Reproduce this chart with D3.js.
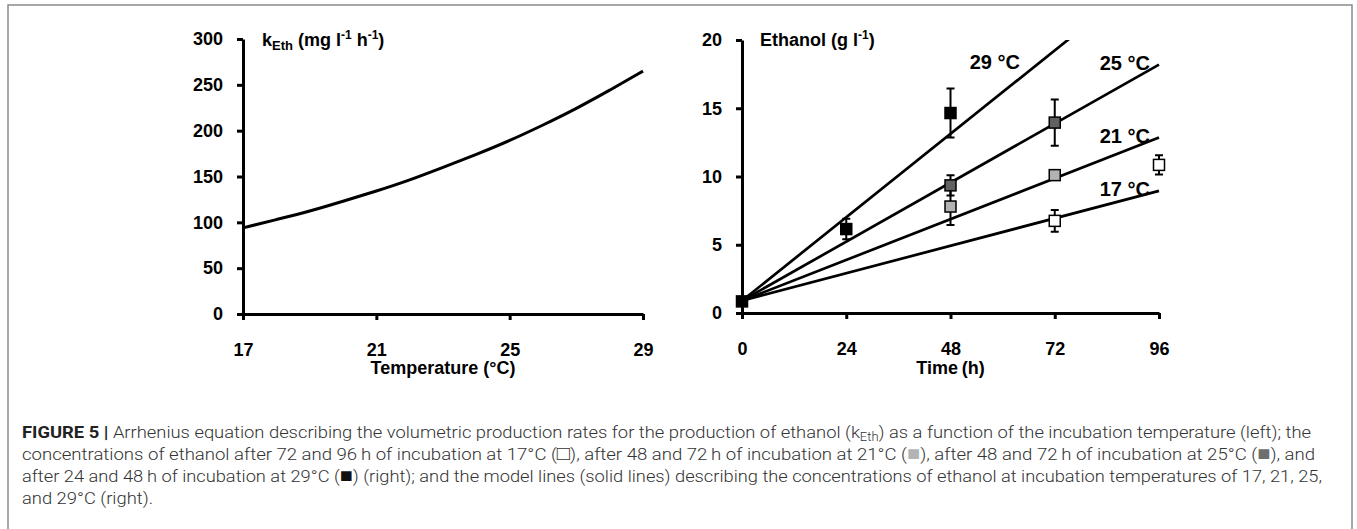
<!DOCTYPE html>
<html>
<head>
<meta charset="utf-8">
<script src="https://cdn.jsdelivr.net/npm/d3@7"></script>
<style>
  body { margin: 0; background: #fff; }
  svg { display: block; }
  .tick text { font-family: "Liberation Sans", Arial, sans-serif; font-weight: bold; font-size: 18px; fill: #000; }
  .axis-title { font-family: "Liberation Sans", Arial, sans-serif; font-weight: bold; font-size: 18px; fill: #000; }
  .mlabel { font-size: 20px; }
  .caption { font-family: Roboto, "Open Sans", sans-serif; font-weight: 300; font-size: 17px; fill: #333; }
</style>
</head>
<body>
<div class="chart"></div>
<script>
// left panel: Arrhenius curve, k_Eth vs temperature
const temps = [17, 18, 19, 20, 21, 22, 23, 24, 25, 26, 27, 28, 29];
const kEth = [94, 103, 112, 123, 134, 146, 160, 174, 189, 206, 224, 244, 265];
const tempTicks = [17, 21, 25, 29];
const kTicks = [0, 50, 100, 150, 200, 250, 300];

// right panel: model lines (start at 0 h, end at 96 h) and measured points
const modelLabels = ["17 °C", "21 °C", "25 °C", "29 °C"];
const modelStart = [0.9, 0.9, 0.9, 0.9];
const modelEnd = [8.95, 12.85, 18.2, 25.35];
const groupFill = ["#ffffff", "#b3b3b3", "#616161", "#000000"];

const obsGroup = [0, 0, 1, 1, 2, 2, 3, 3, 3];
const obsTime = [72, 96, 48, 72, 48, 72, 0, 24, 48];
const obsMean = [6.75, 10.85, 7.8, 10.1, 9.35, 13.95, 0.85, 6.15, 14.65];
const obsErr = [0.8, 0.7, 1.35, 0.35, 0.75, 1.7, 0, 0.75, 1.8];

const timeTicks = [0, 24, 48, 72, 96];
const ethTicks = [0, 5, 10, 15, 20];

const width = 1357;
const height = 529;

const svg = d3.select(".chart")
    .append("svg")
    .attr("width", width)
    .attr("height", height);

// frame around figure
svg.append("path")
    .attr("d", "M8,529 V5 H1352 V529")
    .attr("fill", "none")
    .attr("stroke", "#8a8a8a")
    .attr("stroke-width", 1.5);

function styleAxis(g) {
  g.select(".domain").attr("stroke", "#000").attr("stroke-width", 3);
  g.selectAll(".tick line").attr("stroke", "#000").attr("stroke-width", 3);
}

// ---------- left panel ----------
const x1 = d3.scaleLinear().domain([17, 29]).range([243, 643]);
const y1 = d3.scaleLinear().domain([0, 300]).range([314, 39]);

svg.append("g")
    .attr("transform", "translate(0," + y1(0) + ")")
    .call(d3.axisBottom(x1).tickValues(tempTicks).tickSize(6).tickSizeOuter(0).tickPadding(23))
    .call(styleAxis);

svg.append("g")
    .attr("transform", "translate(" + x1(17) + ",0)")
    .call(d3.axisLeft(y1).tickValues(kTicks).tickSize(6).tickSizeOuter(0).tickPadding(14))
    .call(styleAxis);

svg.append("path")
    .datum(temps)
    .attr("fill", "none")
    .attr("stroke", "#000")
    .attr("stroke-width", 3)
    .attr("d", d3.line()
        .x(d => x1(d))
        .y((d, i) => y1(kEth[i]))
        .curve(d3.curveBasis));

const t1 = svg.append("text").attr("class", "axis-title").attr("x", 262).attr("y", 46);
t1.append("tspan").text("k");
t1.append("tspan").attr("font-size", 13).attr("dy", 4).text("Eth");
t1.append("tspan").attr("dy", -4).text(" (mg l");
t1.append("tspan").attr("font-size", 12).attr("dy", -7).text("-1");
t1.append("tspan").attr("dy", 7).text(" h");
t1.append("tspan").attr("font-size", 12).attr("dy", -7).text("-1");
t1.append("tspan").attr("dy", 7).text(")");

svg.append("text")
    .attr("class", "axis-title")
    .attr("x", (x1(17) + x1(29)) / 2)
    .attr("y", 374)
    .attr("text-anchor", "middle")
    .text("Temperature (°C)");

// ---------- right panel ----------
const x2 = d3.scaleLinear().domain([0, 96]).range([742, 1159]);
const y2 = d3.scaleLinear().domain([0, 20]).range([313, 40]);

svg.append("defs").append("clipPath")
    .attr("id", "clip2")
    .append("rect")
    .attr("x", x2(0)).attr("y", y2(20))
    .attr("width", x2(96) - x2(0) + 2)
    .attr("height", y2(0) - y2(20));

svg.append("g")
    .attr("transform", "translate(0," + y2(0) + ")")
    .call(d3.axisBottom(x2).tickValues(timeTicks).tickSize(6).tickSizeOuter(0).tickPadding(23))
    .call(styleAxis);

svg.append("g")
    .attr("transform", "translate(" + x2(0) + ",0)")
    .call(d3.axisLeft(y2).tickValues(ethTicks).tickSize(6).tickSizeOuter(0).tickPadding(14))
    .call(styleAxis);

svg.append("g")
    .attr("clip-path", "url(#clip2)")
    .selectAll("line")
    .data(modelLabels)
    .enter()
    .append("line")
    .attr("x1", x2(0))
    .attr("y1", (d, i) => y2(modelStart[i]))
    .attr("x2", x2(96))
    .attr("y2", (d, i) => y2(modelEnd[i]))
    .attr("stroke", "#000")
    .attr("stroke-width", 2.7);

// error bars
const idx = obsMean.map((m, i) => i);

svg.selectAll(".err")
    .data(idx.filter(i => obsErr[i] > 0))
    .enter()
    .append("path")
    .attr("class", "err")
    .attr("fill", "none")
    .attr("stroke", "#000")
    .attr("stroke-width", 2)
    .attr("d", function(i) {
      const cx = x2(obsTime[i]);
      const top = y2(obsMean[i] + obsErr[i]);
      const bot = y2(obsMean[i] - obsErr[i]);
      return "M" + cx + "," + top + "V" + bot +
             "M" + (cx - 4) + "," + top + "H" + (cx + 4) +
             "M" + (cx - 4) + "," + bot + "H" + (cx + 4);
    });

const sq = 11;
svg.selectAll(".pt")
    .data(idx)
    .enter()
    .append("rect")
    .attr("class", "pt")
    .attr("x", i => x2(obsTime[i]) - sq / 2)
    .attr("y", i => y2(obsMean[i]) - sq / 2)
    .attr("width", sq)
    .attr("height", sq)
    .attr("fill", i => groupFill[obsGroup[i]])
    .attr("stroke", "#000")
    .attr("stroke-width", 1.5);

// line labels
svg.selectAll(".mlabel")
    .data(modelLabels)
    .enter()
    .append("text")
    .attr("class", "axis-title mlabel")
    .attr("text-anchor", "end")
    .attr("x", (d, i) => i === 3 ? x2(64) : x2(96) - 9)
    .attr("y", (d, i) => i === 3 ? y2(20) + 29 : y2(modelEnd[i]) + 5)
    .text(d => d);

const t2 = svg.append("text").attr("class", "axis-title").attr("x", 760).attr("y", 46);
t2.append("tspan").text("Ethanol (g l");
t2.append("tspan").attr("font-size", 12).attr("dy", -7).text("-1");
t2.append("tspan").attr("dy", 7).text(")");

svg.append("text")
    .attr("class", "axis-title")
    .attr("x", (x2(0) + x2(96)) / 2)
    .attr("y", 374)
    .attr("text-anchor", "middle")
    .text("Time\u2009(h)");

// ---------- caption ----------
const capX = 22;
function sqSpan(t, ch, fill) {
  t.append("tspan").attr("font-family", "DejaVu Sans").attr("font-size", 20)
    .attr("fill", fill).text(ch);
}
const c1 = svg.append("text").attr("class", "caption").attr("x", capX).attr("y", 438);
c1.append("tspan").attr("font-weight", "bold").attr("fill", "#222").text("FIGURE 5 |");
c1.append("tspan").text(" Arrhenius equation describing the volumetric production rates for the production of ethanol (k");
c1.append("tspan").attr("font-size", 12).attr("dy", 3).text("Eth");
c1.append("tspan").attr("dy", -3).text(") as a function of the incubation temperature (left); the");

const c2 = svg.append("text").attr("class", "caption").attr("x", capX).attr("y", 460);
c2.append("tspan").text("concentrations of ethanol after 72 and 96\u2009h of incubation at 17\u00b0C (");
sqSpan(c2, "\u25a1", "#333");
c2.append("tspan").text("), after 48 and 72\u2009h of incubation at 21\u00b0C (");
sqSpan(c2, "\u25a0", "#b3b3b3");
c2.append("tspan").text("), after 48 and 72\u2009h of incubation at 25\u00b0C (");
sqSpan(c2, "\u25a0", "#6e6e6e");
c2.append("tspan").text("), and");

const c3 = svg.append("text").attr("class", "caption").attr("x", capX).attr("y", 482);
c3.append("tspan").text("after 24 and 48\u2009h of incubation at 29\u00b0C (");
sqSpan(c3, "\u25a0", "#111");
c3.append("tspan").text(") (right); and the model lines (solid lines) describing the concentrations of ethanol at incubation temperatures of 17, 21, 25,");

const c4 = svg.append("text").attr("class", "caption").attr("x", capX).attr("y", 504)
    .text("and 29\u00b0C (right).");

// squeeze lines to the narrow caption font width of the original
const ratio = 1289 / c1.node().getComputedTextLength();
[[c1, 1289], [c2, 1293], [c3, 1300], [c4, null]].forEach(function(p) {
  const len = p[1] || p[0].node().getComputedTextLength() * ratio;
  p[0].attr("textLength", len).attr("lengthAdjust", "spacingAndGlyphs");
});
</script>
</body>
</html>
